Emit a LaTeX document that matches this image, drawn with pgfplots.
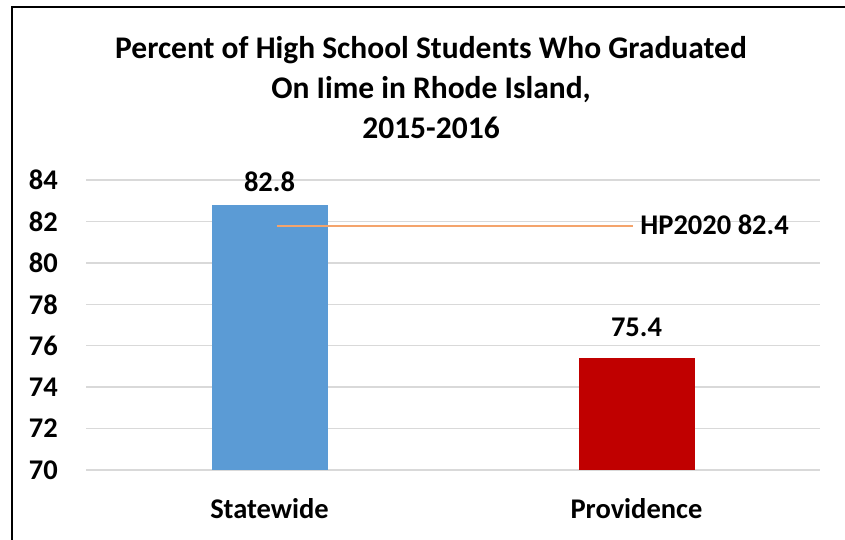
\documentclass[border=0pt]{standalone}
\usepackage{pgfplots}
\pgfplotsset{compat=1.18}
\usepackage{fontspec}
\setmainfont{Carlito}
\definecolor{barblue}{HTML}{5B9BD5}
\definecolor{barred}{HTML}{C00000}
\definecolor{hporange}{HTML}{F4A46C}
\definecolor{gridgray}{HTML}{D9D9D9}
\newcommand{\lblfont}{\fontsize{28.5bp}{34bp}\selectfont\bfseries}
\begin{document}
\begin{tikzpicture}
\useasboundingbox (0,0) rectangle (845bp,540bp);
\draw[black, line width=2bp] (12bp,0) -- (12bp,533bp) -- (845bp,533bp);
\begin{axis}[
  at={(86bp,70bp)}, anchor=south west,
  scale only axis, width=734bp, height=290bp,
  xmin=-0.5, xmax=1.5, ymin=70, ymax=84,
  ytick={70,72,...,84},
  xtick={0,1}, xticklabels={Statewide,Providence},
  axis line style={draw=none},
  major tick length=0pt,
  ymajorgrids, grid style={gridgray, line width=1.5bp},
  /pgf/number format/assume math mode=true,
  tick label style={font=\lblfont},
  yticklabel style={anchor=east, inner sep=0pt, xshift=-28bp},
  xticklabel style={anchor=base, inner sep=0pt, yshift=-49bp},
  clip=true,
]
\addplot[ybar, bar width=116bp, bar shift=0pt, fill=barblue, draw=none,
  nodes near coords, every node near coord/.append style={font=\lblfont, black, anchor=south, yshift=10bp}] coordinates {(0,82.8)};
\addplot[ybar, bar width=116bp, bar shift=0pt, fill=barred, draw=none,
  nodes near coords, every node near coord/.append style={font=\lblfont, black, anchor=south, yshift=18bp}] coordinates {(1,75.4)};
\addplot[color=hporange, solid, line width=2bp, mark=none, forget plot] coordinates {(0.02,81.8) (0.99,81.8)};
\node[anchor=west, inner sep=0pt, font=\lblfont] at (axis cs:1.01,81.85) {HP2020 82.4};
\end{axis}
\node[align=center, font=\fontsize{31.5bp}{40bp}\selectfont\bfseries, inner sep=0pt] at (431bp,452bp) {Percent of High School Students Who Graduated\\On Iime in Rhode Island,\\2015-2016};
\end{tikzpicture}
\end{document}
